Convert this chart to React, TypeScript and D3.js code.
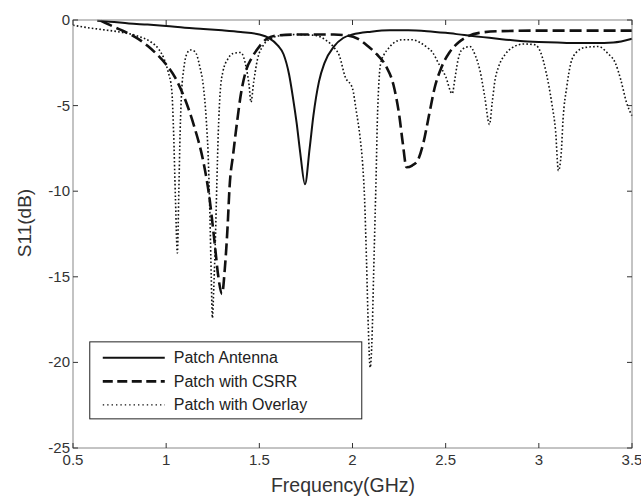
import React, { useEffect, useRef } from "react";
import * as d3 from "d3";

// Patch Antenna (solid)
const patchFreq = [0.63, 0.7, 0.8, 0.9, 1.0, 1.1, 1.2, 1.3, 1.4, 1.5, 1.55, 1.6, 1.63, 1.66, 1.68, 1.7, 1.72, 1.745, 1.77, 1.79, 1.82, 1.85, 1.9, 1.95, 2.0, 2.1, 2.2, 2.3, 2.4, 2.5, 2.6, 2.7, 2.8, 2.9, 3.0, 3.1, 3.2, 3.3, 3.4, 3.5];
const patchS11 = [-0.05, -0.1, -0.2, -0.27, -0.35, -0.45, -0.52, -0.6, -0.7, -0.85, -1.05, -1.5, -2.0, -3.2, -4.5, -6.0, -7.8, -9.6, -7.5, -5.6, -3.6, -2.5, -1.55, -1.05, -0.85, -0.68, -0.6, -0.6, -0.65, -0.75, -0.88, -1.0, -1.12, -1.22, -1.28, -1.32, -1.35, -1.35, -1.32, -1.1];

// Patch with CSRR (dashed)
const csrrFreq = [0.65, 0.7, 0.75, 0.8, 0.85, 0.9, 0.95, 1.0, 1.05, 1.1, 1.15, 1.2, 1.23, 1.26, 1.28, 1.3, 1.315, 1.33, 1.34, 1.36, 1.38, 1.4, 1.43, 1.46, 1.49, 1.54, 1.6, 1.7, 1.8, 1.9, 1.97, 2.03, 2.08, 2.13, 2.18, 2.22, 2.25, 2.27, 2.29, 2.32, 2.35, 2.38, 2.41, 2.44, 2.48, 2.52, 2.57, 2.62, 2.68, 2.8, 3.0, 3.2, 3.5];
const csrrS11 = [-0.05, -0.3, -0.55, -0.8, -1.1, -1.5, -2.0, -2.6, -3.4, -4.6, -6.2, -8.3, -10.2, -13.0, -15.0, -16.0, -14.5, -12.0, -9.8, -7.8, -6.0, -4.4, -2.9, -2.2, -1.7, -1.1, -0.9, -0.85, -0.85, -0.85, -0.9, -1.1, -1.5, -2.0, -2.7, -3.8, -5.5, -7.2, -8.6, -8.5, -8.2, -7.2, -5.6, -4.0, -2.7, -1.9, -1.3, -0.95, -0.75, -0.65, -0.62, -0.62, -0.62];

// Patch with Overlay (dotted)
const overlayFreq = [0.5, 0.55, 0.65, 0.75, 0.85, 0.92, 0.96, 0.99, 1.01, 1.03, 1.04, 1.05, 1.06, 1.068, 1.075, 1.083, 1.095, 1.11, 1.13, 1.155, 1.18, 1.2, 1.215, 1.225, 1.235, 1.242, 1.248, 1.256, 1.265, 1.272, 1.28, 1.29, 1.305, 1.33, 1.36, 1.4, 1.43, 1.445, 1.455, 1.47, 1.49, 1.52, 1.56, 1.62, 1.7, 1.8, 1.86, 1.9, 1.93, 1.96, 2.0, 2.02, 2.04, 2.055, 2.065, 2.075, 2.085, 2.095, 2.105, 2.113, 2.12, 2.127, 2.133, 2.14, 2.15, 2.17, 2.19, 2.22, 2.27, 2.32, 2.36, 2.4, 2.43, 2.46, 2.5, 2.535, 2.55, 2.565, 2.59, 2.63, 2.66, 2.685, 2.71, 2.735, 2.75, 2.765, 2.785, 2.82, 2.86, 2.92, 2.98, 3.01, 3.04, 3.07, 3.09, 3.105, 3.12, 3.13, 3.15, 3.17, 3.2, 3.25, 3.32, 3.37, 3.41, 3.44, 3.47, 3.5];
const overlayS11 = [-0.3, -0.4, -0.55, -0.7, -0.95, -1.3, -1.7, -2.3, -3.0, -4.1, -6.6, -10.5, -13.6, -10.0, -6.5, -4.2, -2.8, -2.0, -1.75, -1.85, -2.7, -3.9, -5.8, -7.8, -11.5, -15.0, -17.4, -15.5, -12.5, -9.5, -6.5, -4.2, -3.0, -2.3, -1.95, -1.9, -2.8, -3.8, -4.8, -3.6, -2.3, -1.5, -1.1, -0.9, -0.85, -0.9, -1.2, -1.6, -2.1, -3.3, -4.0, -5.3, -6.8, -8.5, -10.5, -14.0, -18.0, -20.3, -18.5, -15.0, -12.0, -9.0, -6.0, -4.0, -2.6, -2.0, -1.7, -1.35, -1.15, -1.15, -1.3, -1.6, -1.9, -2.5, -3.3, -4.3, -3.4, -2.4, -1.7, -1.55, -2.1, -3.0, -4.5, -6.1, -4.8, -3.5, -2.7, -2.0, -1.6, -1.4, -1.45, -1.9, -3.1, -4.9, -6.5, -8.8, -7.8, -5.8, -3.9, -2.6, -1.9, -1.6, -1.55, -1.95, -2.5, -3.5, -4.8, -5.6];

const xTicks = [0.5, 1, 1.5, 2, 2.5, 3, 3.5];
const yTicks = [0, -5, -10, -15, -20, -25];
const legendLabels = ["Patch Antenna", "Patch with CSRR", "Patch with Overlay"];

const App = () => {
  const ref = useRef<SVGSVGElement>(null);

  useEffect(() => {
    const svg = d3.select(ref.current);
    svg.selectAll("*").remove();

    const width = 641;
    const height = 499;
    const m = { left: 73, top: 20, right: 9, bottom: 51 };
    const x = d3.scaleLinear().domain([0.5, 3.5]).range([m.left, width - m.right]);
    const y = d3.scaleLinear().domain([-25, 0]).range([height - m.bottom, m.top]);
    const font = "'Liberation Sans', Arial, sans-serif";

    svg.attr("width", width).attr("height", height);
    svg.append("rect").attr("width", width).attr("height", height).attr("fill", "#fff");

    const series = [
      { f: patchFreq, v: patchS11, dash: null, w: 2 },
      { f: csrrFreq, v: csrrS11, dash: "12 5", w: 2.6 },
      { f: overlayFreq, v: overlayS11, dash: "1.6 2.2", w: 1.6 },
    ];

    const line = d3.line<[number, number]>()
      .x((d) => x(d[0]))
      .y((d) => y(d[1]))
      .curve(d3.curveMonotoneX);

    const plot = svg.append("g");
    series.forEach((s) => {
      const pts = s.f.map((f, i) => [f, s.v[i]] as [number, number]);
      const p = plot.append("path")
        .attr("d", line(pts))
        .attr("fill", "none")
        .attr("stroke", "#111")
        .attr("stroke-width", s.w);
      if (s.dash) p.attr("stroke-dasharray", s.dash);
    });

    // frame
    const x0 = x(0.5), x1 = x(3.5), y0 = y(-25), y1 = y(0);
    svg.append("rect")
      .attr("x", x0).attr("y", y1)
      .attr("width", x1 - x0).attr("height", y0 - y1)
      .attr("fill", "none").attr("stroke", "#888").attr("stroke-width", 1);

    // ticks (inward, mirrored)
    const tl = 5;
    xTicks.forEach((t) => {
      svg.append("line").attr("x1", x(t)).attr("x2", x(t)).attr("y1", y0).attr("y2", y0 - tl).attr("stroke", "#333");
      svg.append("line").attr("x1", x(t)).attr("x2", x(t)).attr("y1", y1).attr("y2", y1 + tl).attr("stroke", "#333");
      svg.append("text")
        .attr("x", x(t)).attr("y", y0 + 17)
        .attr("text-anchor", "middle")
        .attr("font-family", font).attr("font-size", 15).attr("fill", "#333")
        .text(String(t));
    });
    yTicks.forEach((t) => {
      svg.append("line").attr("x1", x0).attr("x2", x0 + tl).attr("y1", y(t)).attr("y2", y(t)).attr("stroke", "#333");
      svg.append("line").attr("x1", x1).attr("x2", x1 - tl).attr("y1", y(t)).attr("y2", y(t)).attr("stroke", "#333");
      svg.append("text")
        .attr("x", x0 - 3).attr("y", y(t) + 5)
        .attr("text-anchor", "end")
        .attr("font-family", font).attr("font-size", 15).attr("fill", "#333")
        .text(String(t));
    });

    // axis titles
    svg.append("text")
      .attr("x", 343).attr("y", height - 7)
      .attr("text-anchor", "middle")
      .attr("font-family", font).attr("font-size", 19.5).attr("fill", "#333")
      .text("Frequency(GHz)");
    svg.append("text")
      .attr("transform", `translate(31,223) rotate(-90)`)
      .attr("text-anchor", "middle")
      .attr("font-family", font).attr("font-size", 19).attr("fill", "#333")
      .text("S11(dB)");

    // legend
    const lg = svg.append("g").attr("transform", `translate(${x(0.59)},${y(-18.8)})`);
    lg.append("rect").attr("width", 272).attr("height", 77)
      .attr("fill", "#fff").attr("stroke", "#222").attr("stroke-width", 1);
    legendLabels.forEach((lab, i) => {
      const s = series[i];
      const yy = 16 + i * 23.5;
      const l = lg.append("line")
        .attr("x1", 13).attr("x2", 75).attr("y1", yy).attr("y2", yy)
        .attr("stroke", "#111").attr("stroke-width", i === 2 ? 1.4 : s.w);
      if (s.dash) l.attr("stroke-dasharray", i === 1 ? "10 4.5" : "1.4 3");
      lg.append("text")
        .attr("x", 84).attr("y", yy + 5.5)
        .attr("font-family", font).attr("font-size", 16).attr("fill", "#222")
        .text(lab);
    });
  }, []);

  return <svg ref={ref} style={{ position: "absolute", left: 0, top: 0, display: "block" }}></svg>;
};

export default App;
